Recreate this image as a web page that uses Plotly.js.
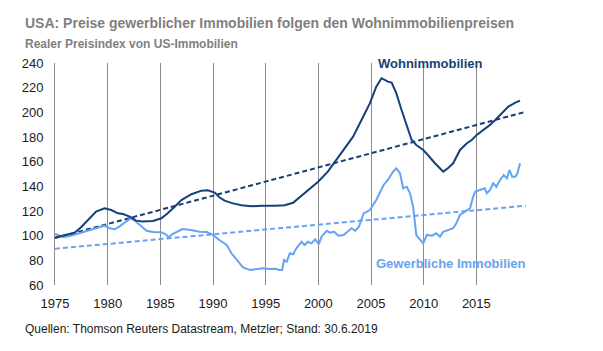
<!DOCTYPE html>
<html>
<head>
<meta charset="utf-8">
<script src="https://cdn.plot.ly/plotly-3.0.1.min.js"></script>
<style>
  html, body { margin: 0; padding: 0; background: #ffffff; }
  #chart { width: 603px; height: 351px; }
</style>
</head>
<body>
<div id="chart"></div>
<script>
// ---- Data ----
const wohnYears = [1975.0, 1976.0, 1976.85, 1977.5, 1977.96, 1978.9, 1979.7, 1980.34, 1980.97, 1981.45,
  1982.1, 1982.7, 1983.3, 1984.3, 1985.1, 1985.7, 1986.36, 1987.0, 1987.95, 1988.9,
  1989.5, 1990.16, 1990.6, 1991.1, 1991.9, 1992.7, 1993.65, 1994.6, 1995.9, 1996.8,
  1997.6, 1998.2, 1999.0, 1999.98, 2000.9, 2001.7, 2002.5, 2003.3, 2004.1, 2004.9,
  2005.5, 2006.0, 2006.3, 2006.6, 2006.96, 2007.4, 2007.9, 2008.4, 2008.86, 2009.3,
  2009.96, 2010.4, 2011.07, 2011.86, 2012.3, 2012.8, 2013.45, 2014.1, 2014.56, 2015.04,
  2015.7, 2016.3, 2016.8, 2017.4, 2018.04, 2018.7, 2019.15];
const wohnValues = [98.5, 100.5, 102.4, 107.0, 111.3, 119.5, 122.2, 120.8, 118.1, 117.6,
  115.4, 112.2, 111.4, 111.9, 114.1, 118.1, 123.5, 128.9, 133.6, 136.5,
  136.8, 134.9, 131.1, 128.4, 126.2, 124.6, 123.8, 124.3, 124.3, 124.6,
  126.7, 131.1, 137.0, 143.8, 151.9, 161.4, 170.9, 180.3, 193.8, 207.4,
  220.8, 227.6, 226.3, 224.9, 224.1, 215.5, 201.9, 188.4, 177.6, 173.5,
  169.5, 165.4, 158.7, 151.9, 154.6, 158.7, 169.5, 174.9, 177.6, 181.7,
  185.7, 189.8, 193.8, 199.2, 204.6, 207.9, 209.5];

const gewYears = [1975.0, 1975.3, 1975.7, 1976.4, 1977.3, 1978.3, 1979.2, 1979.7, 1980.2, 1980.66,
  1981.1, 1981.8, 1982.2, 1982.7, 1983.2, 1983.7, 1984.3, 1985.1, 1985.6, 1985.75,
  1986.2, 1986.7, 1987.1, 1987.9, 1988.7, 1989.4, 1990.0, 1990.6, 1991.3, 1991.75,
  1992.4, 1992.85, 1993.5, 1994.1, 1994.75, 1995.4, 1995.9, 1996.3, 1996.56, 1996.75,
  1997.0, 1997.3, 1997.6, 1997.9, 1998.15, 1998.4, 1998.7, 1999.0, 1999.35, 1999.7,
  2000.05, 2000.3, 2000.8, 2001.1, 2001.5, 2001.9, 2002.4, 2002.8, 2003.15, 2003.5,
  2003.85, 2004.3, 2004.9, 2005.5, 2006.2, 2006.6, 2007.1, 2007.4, 2007.75, 2008.06,
  2008.4, 2008.7, 2009.0, 2009.3, 2009.65, 2009.96, 2010.3, 2010.8, 2011.2, 2011.55,
  2011.86, 2012.2, 2012.5, 2012.8, 2013.1, 2013.45, 2013.9, 2014.4, 2014.7, 2014.9,
  2015.35, 2015.8, 2016.0, 2016.3, 2016.6, 2016.9, 2017.25, 2017.6, 2017.9, 2018.15,
  2018.4, 2018.7, 2018.9, 2019.15];
const gewValues = [101.4, 100.6, 98.7, 99.7, 101.9, 104.6, 107.3, 108.1, 106.0, 105.2,
  107.3, 111.3, 114.1, 111.3, 107.3, 104.0, 103.0, 102.7, 100.6, 98.7,
  101.4, 103.8, 105.4, 104.6, 103.2, 103.0, 100.6, 96.5, 92.4, 85.7,
  78.9, 74.3, 72.2, 72.7, 73.5, 73.0, 73.2, 72.2, 72.2, 80.3,
  78.9, 85.7, 84.9, 89.5, 92.4, 95.1, 92.4, 95.1, 93.8, 97.0,
  93.2, 99.2, 104.0, 102.4, 103.2, 100.0, 100.6, 103.2, 106.0, 104.0,
  107.3, 118.1, 120.8, 128.9, 141.1, 145.2, 151.9, 154.6, 150.6, 138.4,
  139.7, 134.4, 123.5, 100.5, 96.5, 93.8, 100.6, 100.0, 101.9, 99.2,
  103.2, 104.0, 105.2, 106.0, 110.0, 116.8, 119.5, 122.2, 131.6, 135.7,
  137.0, 138.4, 134.4, 137.0, 142.5, 139.7, 145.2, 149.2, 146.5, 153.3,
  147.8, 147.8, 150.6, 158.7];

// Linear trend lines (start / end)
const trendYears = [1975.0, 2019.7];
const trendWohn = [98.0, 200.5];
const trendGew = [89.4, 124.3];

const xTickVals = [1975, 1980, 1985, 1990, 1995, 2000, 2005, 2010, 2015];
const yTickVals = [60, 80, 100, 120, 140, 160, 180, 200, 220, 240];

const seriesNames = ["Wohnimmobilien", "Gewerbliche Immobilien"];
const titleText = "USA: Preise gewerblicher Immobilien folgen den Wohnimmobilienpreisen";
const subtitleText = "Realer Preisindex von US-Immobilien";
const sourceText = "Quellen: Thomson Reuters Datastream, Metzler; Stand: 30.6.2019";

// ---- Styling ----
const darkBlue = "#173f78";
const lightBlue = "#66a3f2";
const gridGray = "#8c8c8c";
const FONT = "Liberation Sans, Arial, sans-serif";

const traces = [
  { x: trendYears, y: trendGew, mode: "lines", hoverinfo: "skip",
    line: { color: lightBlue, width: 2, dash: "5px,3px" } },
  { x: trendYears, y: trendWohn, mode: "lines", hoverinfo: "skip",
    line: { color: darkBlue, width: 2, dash: "5px,3px" } },
  { x: gewYears, y: gewValues, mode: "lines", name: seriesNames[1],
    line: { color: lightBlue, width: 2 } },
  { x: wohnYears, y: wohnValues, mode: "lines", name: seriesNames[0],
    line: { color: darkBlue, width: 2 } }
];

const layout = {
  width: 603, height: 351,
  margin: { l: 55, r: 74, t: 63, b: 66, pad: 0 },
  paper_bgcolor: "#ffffff", plot_bgcolor: "#ffffff",
  showlegend: false,
  font: { family: FONT, size: 13, color: "#1a1a1a" },
  xaxis: {
    range: [1975, 2020],
    tickvals: xTickVals,
    ticktext: xTickVals.map(String),
    showgrid: true, gridcolor: gridGray, gridwidth: 1,
    zeroline: false, showline: false,
    ticks: "outside", ticklen: 6, tickcolor: "rgba(0,0,0,0)",
    tickfont: { family: FONT, size: 13, color: "#1a1a1a" },
    fixedrange: true
  },
  yaxis: {
    range: [60, 240],
    tickvals: yTickVals,
    showgrid: false, zeroline: false,
    showline: true, linecolor: gridGray, linewidth: 1,
    ticks: "outside", ticklen: 8, tickcolor: "rgba(0,0,0,0)",
    tickfont: { family: FONT, size: 13, color: "#1a1a1a" },
    fixedrange: true
  },
  annotations: [
    { xref: "paper", yref: "paper", x: -0.0681, y: 1.1824, xanchor: "left", yanchor: "middle",
      showarrow: false, text: "<b>" + titleText + "</b>",
      font: { family: FONT, size: 14, color: "#7f7f7f" } },
    { xref: "paper", yref: "paper", x: -0.0681, y: 1.0856, xanchor: "left", yanchor: "middle",
      showarrow: false, text: "<b>" + subtitleText + "</b>",
      font: { family: FONT, size: 12, color: "#7f7f7f" } },
    { xref: "paper", yref: "paper", x: -0.0681, y: -0.196, xanchor: "left", yanchor: "middle",
      showarrow: false, text: sourceText,
      font: { family: FONT, size: 12, color: "#1a1a1a" } },
    { xref: "x", yref: "y", x: 2010.65, y: 239.6, xanchor: "center", yanchor: "middle",
      showarrow: false, text: "<b>" + seriesNames[0] + "</b>",
      font: { family: FONT, size: 13, color: darkBlue } },
    { xref: "x", yref: "y", x: 2012.55, y: 77.3, xanchor: "center", yanchor: "middle",
      showarrow: false, text: "<b>" + seriesNames[1] + "</b>",
      font: { family: FONT, size: 13, color: lightBlue } }
  ]
};

Plotly.newPlot("chart", traces, layout, { staticPlot: true, displayModeBar: false });
</script>
</body>
</html>
